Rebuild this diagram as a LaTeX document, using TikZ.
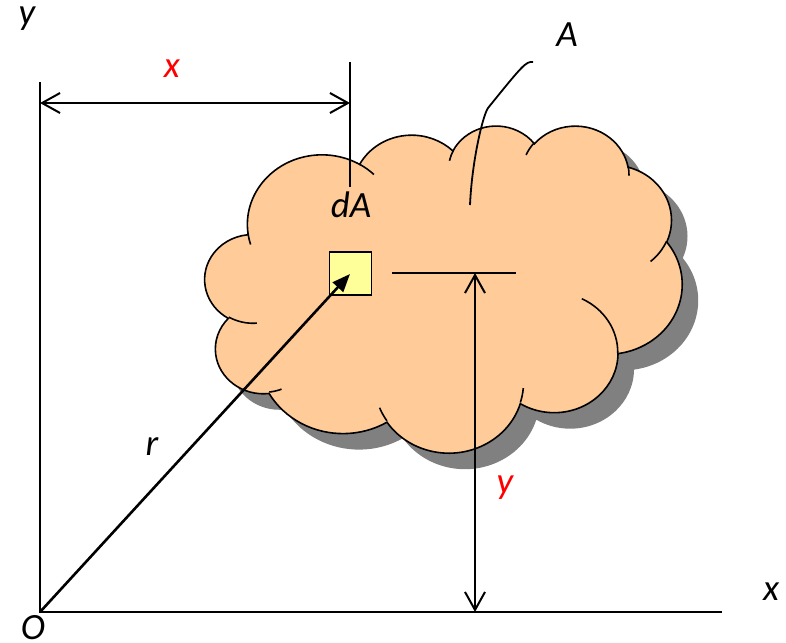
\documentclass[tikz,border=0pt]{standalone}
\usepackage{fontspec}
\setmainfont{Carlito}
\usetikzlibrary{arrows.meta}
\definecolor{cloudfill}{HTML}{FFCC99}
\definecolor{cloudshadow}{HTML}{808080}
\definecolor{dafill}{HTML}{FFFF99}
\definecolor{lblred}{HTML}{FF0000}
% elliptic arc with OOXML-like visual angles: rx, ry, start angle, sweep
\newcommand\carc[4]{arc[x radius=#1,y radius=#2,start angle={atan2((#1)*sin(#3),(#2)*cos(#3))},delta angle={mod(atan2((#1)*sin((#3)+(#4)),(#2)*cos((#3)+(#4)))-atan2((#1)*sin(#3),(#2)*cos(#3))+720,360)}]}
\newcommand\cloudoutline{(39,143.70)
 \carc{67.53}{91.90}{-190.48748}{123.78053}
 \carc{53.33}{72.67}{-144.10238}{89.94523}
 \carc{43.65}{59.45}{-145.80792}{99.72302}
 \carc{48.57}{65.95}{-130.98607}{117.24173}
 \carc{53.33}{72.73}{-78.70888}{109.02692}
 \carc{67.75}{92.20}{-46.26725}{130.269}
 \carc{57.85}{78.67}{0.62502}{114.03333}
 \carc{67.52}{92.15}{22.4516}{115.17255}
 \carc{77.20}{105.43}{66.24263}{75.71102}
 \carc{43.60}{59.18}{-274.94208}{146.73557}
 \carc{43.45}{59.45}{-246.8285}{152.51885} -- cycle}
\tikzset{
  lbl/.style={font=\fontsize{37}{44}\selectfont\itshape, inner sep=0pt, anchor=base},
  axisline/.style={line width=2.2pt},
  extline/.style={line width=1.6pt},
  dimline/.style={line width=2pt, {Straight Barb[length=18pt,width=20pt]}-{Straight Barb[length=18pt,width=20pt]}},
  rline/.style={line width=2.6pt, -{Triangle[length=18pt,width=14pt]}},
  cloudline/.style={line width=1.6pt},
}
\begin{document}
\begin{tikzpicture}[x=1pt,y=-1pt]
\useasboundingbox (0,0) rectangle (786,642);
% shadow
\begin{scope}[shift={(221pt,-141pt)},x=1.104167pt,y=-0.756944pt]
  \fill[cloudshadow] \cloudoutline;
\end{scope}
% cloud
\begin{scope}[shift={(205pt,-125pt)},x=1.104167pt,y=-0.756944pt]
  \filldraw[cloudline, fill=cloudfill, draw=black] \cloudoutline;
  \draw[cloudline] (46.93,261.77) \carc{43.45}{59.45}{86.742}{26.4295};
  \draw[cloudline] (69.28,348.99) \carc{43.60}{59.18}{73.61047}{11.44747};
  \draw[cloudline] (164.78,390.90) \carc{67.52}{92.15}{137.62415}{14.0811};
  \draw[cloudline] (288.27,347.51) \carc{67.52}{92.15}{6.45327}{15.99835};
  \draw[cloudline] (341.29,229.54) \carc{57.85}{78.67}{-70.29235}{70.91737};
  \draw[cloudline] (417.98,153.54) \carc{53.33}{72.73}{30.31803}{27.7515};
  \draw[cloudline] (383.24,54.26) \carc{48.57}{65.95}{-13.74433}{14.8589};
  \draw[cloudline] (290.78,39.52) \carc{48.57}{65.95}{-149.18145}{18.19537};
  \draw[cloudline] (221.41,47.20) \carc{43.65}{59.45}{-163.49427}{17.68635};
  \draw[cloudline] (140.00,51.92) \carc{67.53}{91.90}{-66.70695}{12.31935};
  \draw[cloudline] (41.27,157.89) \carc{67.53}{91.90}{157.65435}{11.85817};
\end{scope}
% coordinates
\coordinate (O) at (40,612);
\coordinate (yaxtop) at (40,82);
\coordinate (xaxend) at (722,612);
\coordinate (xdimL) at (40,103);
\coordinate (xdimR) at (350,103);
\coordinate (xextT) at (350,62);
\coordinate (xextB) at (350,187);
\coordinate (cL) at (392,273);
\coordinate (cR) at (516,273);
\coordinate (ydimT) at (475,273);
\coordinate (ydimB) at (475,612);
\coordinate (rtip) at (350,274);
\coordinate (Aend) at (533,62);
\coordinate (Ain) at (470,205);
% axes
\draw[axisline] (yaxtop) -- (O) -- (xaxend);
% x dimension
\draw[extline] (xextT) -- (xextB);
\draw[dimline] (xdimL) -- (xdimR);
% centroid line and y dimension
\draw[extline] (cL) -- (cR);
\draw[dimline] (ydimT) -- (ydimB);
% A leader
\draw[line width=1.8pt] (Aend) .. controls (526,61) and (522,66) .. (488,108)
  .. controls (483,115) and (472,160) .. (Ain);
% dA element
\node[draw, fill=dafill, line width=1.6pt, minimum width=42pt, minimum height=43pt, inner sep=0pt] (dA) at (350.5,273.3) {};
% r vector
\draw[rline] (O) -- (rtip);
% labels
\node[lbl] (ylab) at (27,25) {y};
\node[lbl, text=lblred] (xred) at (172,77) {x};
\node[lbl] (Alab) at (567,47) {A};
\node[lbl] (dAlab) at (351,217) {dA};
\node[lbl] (rlab) at (152,455) {r};
\node[lbl, text=lblred] (yred) at (505,493) {y};
\node[lbl] (xlab) at (771,600) {x};
\node[lbl] (Olab) at (33,639) {O};
\end{tikzpicture}
\end{document}
